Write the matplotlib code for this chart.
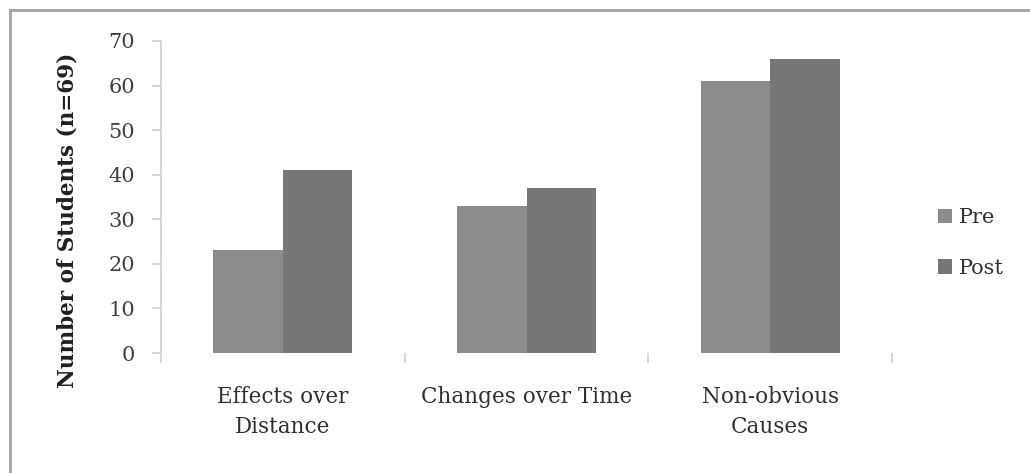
import numpy as np
import matplotlib.pyplot as plt
from matplotlib.patches import Rectangle

# Student counts per reasoning category, before and after instruction
categories = ["Effects over\nDistance", "Changes over Time", "Non-obvious\nCauses"]
pre_counts = [23, 33, 61]
post_counts = [41, 37, 66]
series_names = ["Pre", "Post"]
yticks = [0, 10, 20, 30, 40, 50, 60, 70]

pre_color = "#8c8c8c"
post_color = "#777777"
axis_gray = "#d0d0d0"
text_gray = "#404040"

plt.rcParams['font.family'] = ['DejaVu Serif']

fig = plt.figure(figsize=(10.3, 4.73), dpi=100)

# thin gray frame around the chart area
fig.patches.append(Rectangle((10 / 1030, -0.05), 1.2, 1 - 10 / 473 + 0.05,
                             transform=fig.transFigure, fill=False,
                             edgecolor="#a8a8a8", linewidth=2.2))

ax = fig.add_axes([161 / 1030, 1 - 353 / 473, (892 - 161) / 1030, (353 - 41) / 473])

x = np.arange(len(categories))
bar_w = 1 / 3.5   # two bars plus a 150% gap per category
ax.bar(x - bar_w / 2, pre_counts, bar_w, color=pre_color, label=series_names[0])
ax.bar(x + bar_w / 2, post_counts, bar_w, color=post_color, label=series_names[1])

ax.set_xlim(-0.5, len(categories) - 0.5)
ax.set_ylim(0, 70)
ax.set_yticks(yticks)
ax.set_yticklabels([str(t) for t in yticks], fontsize=15, color=text_gray)

# category labels centred, boundary ticks between categories
ax.set_xticks(x)
ax.set_xticklabels(categories, fontsize=15.5, color="#303030", linespacing=1.45)
ax.tick_params(axis='x', which='major', length=0, pad=24)
ax.set_xticks(np.arange(len(categories) + 1) - 0.5, minor=True)
ax.tick_params(axis='x', which='minor', length=7, color=axis_gray, width=1.2)
ax.tick_params(axis='y', length=6.5, color=axis_gray, width=1.2, pad=12)

for side in ['top', 'right', 'bottom']:
    ax.spines[side].set_visible(False)
ax.spines['left'].set_color(axis_gray)
ax.spines['left'].set_linewidth(1.2)

ax.set_ylabel("Number of Students (n=69)", fontsize=15.5, fontweight='bold',
              color="#202020")
ax.yaxis.set_label_coords(-0.1135, 0.426)

ax.legend(loc='center left', bbox_to_anchor=(919 / 1030, 1 - 243 / 473),
          bbox_transform=fig.transFigure, frameon=False, fontsize=15,
          handlelength=0.7, handleheight=0.7, handletextpad=0.3,
          labelspacing=1.5, labelcolor="#303030")

fig.savefig("out.png", dpi=100)
